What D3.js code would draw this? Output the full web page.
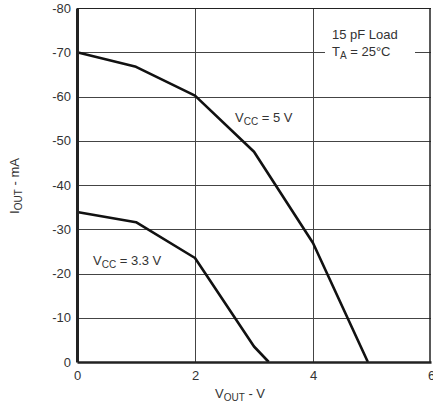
<!DOCTYPE html>
<html>
<head>
<meta charset="utf-8">
<script src="https://cdn.jsdelivr.net/npm/d3@7"></script>
<style>
  body { margin: 0; background: #fff; }
  svg { display: block; font-family: "Liberation Sans", Arial, sans-serif; }
</style>
</head>
<body>
<svg id="chart" width="433" height="412"></svg>
<script>
// output voltage (V) vs output current (mA)
const vout5 = [0, 1, 2, 3, 4, 4.93];
const iout5 = [-70, -66.7, -60.2, -47.5, -26.9, 0];
const vout33 = [0, 1, 2, 3, 3.25];
const iout33 = [-33.9, -31.6, -23.5, -3.5, 0];

const xTicks = [0, 2, 4, 6];
const yTicks = [0, -10, -20, -30, -40, -50, -60, -70, -80];

const width = 433, height = 412;
const margin = { top: 8, right: 2, bottom: 50, left: 77 };

const svg = d3.select('#chart');

const x = d3.scaleLinear([0, 6], [margin.left, width - margin.right]);
const y = d3.scaleLinear([0, -80], [height - margin.bottom, margin.top]);

// gridlines
svg.append('g')
  .attr('stroke', '#444')
  .attr('stroke-width', 1)
  .selectAll('line.h')
  .data(yTicks.slice(1, -1))
  .join('line')
  .attr('x1', x(0)).attr('x2', x(6))
  .attr('y1', d => Math.round(y(d)) + 0.5)
  .attr('y2', d => Math.round(y(d)) + 0.5);

svg.append('g')
  .attr('stroke', '#444')
  .attr('stroke-width', 1)
  .selectAll('line.v')
  .data(xTicks.slice(1, -1))
  .join('line')
  .attr('y1', y(-80)).attr('y2', y(0))
  .attr('x1', d => Math.round(x(d)) + 0.5)
  .attr('x2', d => Math.round(x(d)) + 0.5);

// frame: thin top/right, heavy left/bottom
svg.append('line')
  .attr('x1', x(0)).attr('x2', x(6))
  .attr('y1', y(-80) + 0.5).attr('y2', y(-80) + 0.5)
  .attr('stroke', '#222').attr('stroke-width', 1.2);
svg.append('line')
  .attr('x1', x(6) - 1).attr('x2', x(6) - 1)
  .attr('y1', y(-80)).attr('y2', y(0))
  .attr('stroke', '#222').attr('stroke-width', 1.5);

// label boxes knock out the gridline behind them
svg.append('rect')
  .attr('x', 325).attr('y', y(-73))
  .attr('width', 90).attr('height', y(-66) - y(-73))
  .attr('fill', '#fff');

const line = d3.line().x(d => x(d[0])).y(d => y(d[1]));

svg.append('path')
  .datum(d3.zip(vout5, iout5))
  .attr('d', line)
  .attr('fill', 'none')
  .attr('stroke', '#111')
  .attr('stroke-width', 2.6)
  .attr('stroke-linejoin', 'round');

svg.append('path')
  .datum(d3.zip(vout33, iout33))
  .attr('d', line)
  .attr('fill', 'none')
  .attr('stroke', '#111')
  .attr('stroke-width', 2.6)
  .attr('stroke-linejoin', 'round');

// axes
const yAxis = svg.append('g')
  .attr('transform', `translate(${x(0)},0)`)
  .call(d3.axisLeft(y).tickValues(yTicks).tickSize(0).tickPadding(6)
    .tickFormat(d => String(d)));
yAxis.select('.domain').attr('stroke', '#222').attr('stroke-width', 3);
yAxis.selectAll('text').attr('font-size', 13).attr('fill', '#333')
  .attr('font-family', '"Liberation Sans", Arial, sans-serif');

const xAxis = svg.append('g')
  .attr('transform', `translate(0,${y(0)})`)
  .call(d3.axisBottom(x).tickValues(xTicks).tickSize(0).tickPadding(9)
    .tickFormat(d => String(d)));
xAxis.select('.domain').attr('stroke', '#222').attr('stroke-width', 2.5);
xAxis.selectAll('text').attr('font-size', 13).attr('fill', '#333')
  .attr('font-family', '"Liberation Sans", Arial, sans-serif');

// text with a subscript part
function subLabel(g, px, py, main, sub, rest, opts = {}) {
  const t = g.append('text')
    .attr('x', px).attr('y', py)
    .attr('font-size', 13).attr('fill', '#333');
  if (opts.anchor) t.attr('text-anchor', opts.anchor);
  if (opts.rotate) t.attr('transform', `rotate(-90,${px},${py})`);
  t.append('tspan').text(main);
  t.append('tspan').attr('font-size', 10).attr('dy', 3).text(sub);
  t.append('tspan').attr('dy', -3).text(rest);
  return t;
}

svg.append('text')
  .attr('x', 332).attr('y', 39)
  .attr('font-size', 13).attr('fill', '#333')
  .text('15 pF Load');
subLabel(svg, 332, 56, 'T', 'A', ' = 25°C');

subLabel(svg, 235, 122, 'V', 'CC', ' = 5 V');
subLabel(svg, 93, 265, 'V', 'CC', ' = 3.3 V');

subLabel(svg, 240, 398, 'V', 'OUT', ' - V', { anchor: 'middle' });
subLabel(svg, 19, 186, 'I', 'OUT', ' - mA', { anchor: 'middle', rotate: true });
</script>
</body>
</html>
